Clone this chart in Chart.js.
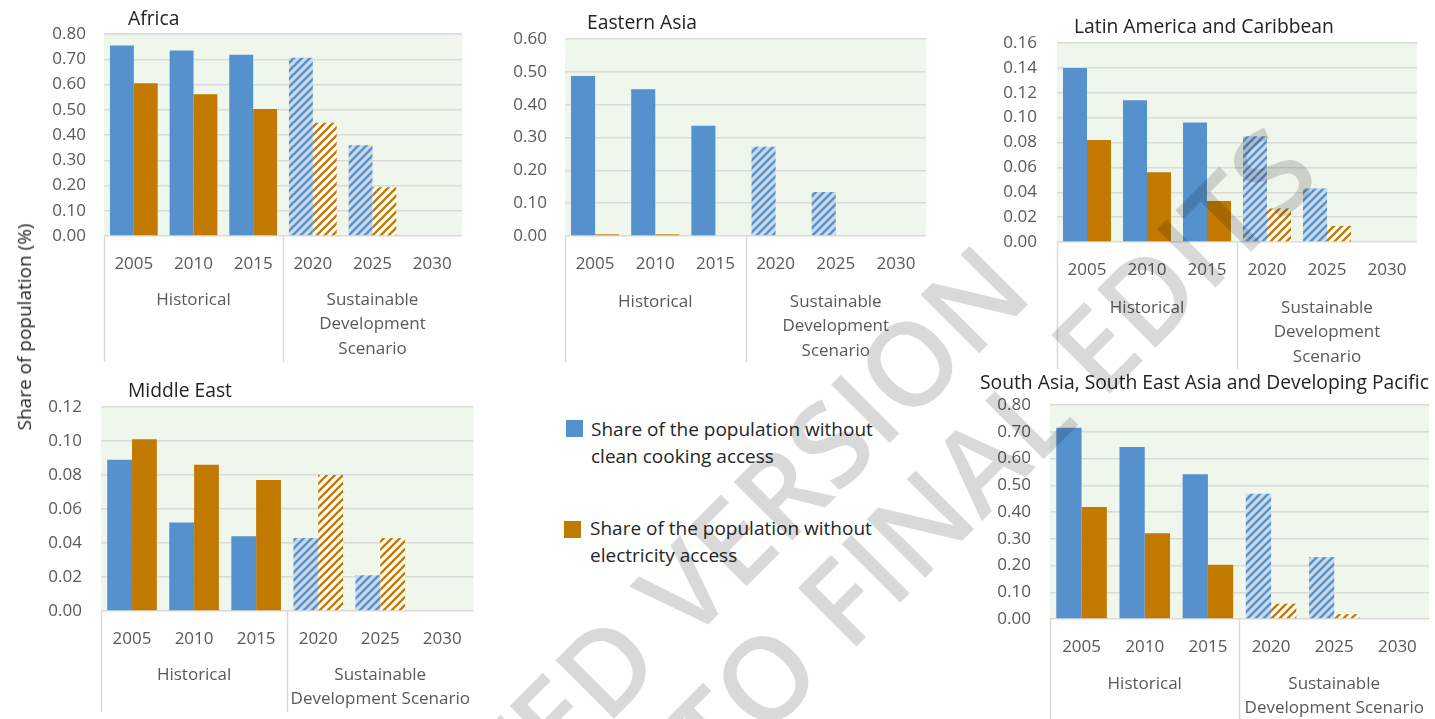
<!DOCTYPE html>
<html>
<head>
<meta charset="utf-8">
<script src="https://cdn.jsdelivr.net/npm/chart.js@4.4.1/dist/chart.umd.min.js"></script>
<style>
  body { margin: 0; background: #fff; width: 1435px; height: 719px; overflow: hidden; position: relative; font-family: "Open Sans", sans-serif; }
  canvas { position: absolute; }
  #ytitle { position: absolute; left: 24px; top: 327px; transform: translate(-50%, -50%) rotate(-90deg); font-size: 19px; color: #262626; white-space: nowrap; }
  .leg { position: absolute; font-size: 19px; color: #262626; line-height: 27px; white-space: nowrap; }
  .sw { position: absolute; width: 17px; height: 17px; }
  .wm { position: absolute; height: 120px; line-height: 120px; font-size: 116px; font-weight: 600; color: rgba(0, 0, 0, 0.15); white-space: nowrap; text-align: right; transform-origin: 100% 50%; transform: rotate(-45deg); pointer-events: none; z-index: 5; }
</style>
</head>
<body>
<canvas id="cAfrica" width="480" height="370" style="left:0;top:0"></canvas>
<canvas id="cEastAsia" width="480" height="370" style="left:480px;top:0"></canvas>
<canvas id="cLatam" width="475" height="375" style="left:960px;top:0"></canvas>
<canvas id="cMidEast" width="480" height="349" style="left:0;top:370px"></canvas>
<canvas id="cSouthAsia" width="475" height="349" style="left:960px;top:370px"></canvas>

<div id="ytitle">Share of population (%)</div>

<div class="sw" id="sw0" style="left:566px;top:420px"></div>
<div class="leg" id="leg0" style="left:591px;top:416px"></div>
<div class="sw" id="sw1" style="left:564px;top:521px"></div>
<div class="leg" id="leg1" style="left:590px;top:515px"></div>

<!-- watermark, each line anchored at its right end -->
<div class="wm" style="right:431px;top:205px">UNEDITED VERSION</div>
<div class="wm" style="right:143px;top:87px">SUBJECT TO FINAL EDITS</div>

<script>
// categories
var years = ["2005", "2010", "2015", "2020", "2025", "2030"];
// 0 = historical, 1 = scenario (hatched)
var yearGroup = [0, 0, 0, 1, 1, 1];
var groupsNarrow = [["Historical"], ["Sustainable", "Development", "Scenario"]];
var groupsWide = [["Historical"], ["Sustainable", "Development Scenario"]];
var legendLines = [
  ["Share of the population without", "clean cooking access"],
  ["Share of the population without", "electricity access"]
];

// values (share, 0-1)
var africaCooking = [0.754, 0.735, 0.718, 0.706, 0.359, null];
var africaElec = [0.605, 0.561, 0.503, 0.449, 0.193, null];
var eastAsiaCooking = [0.487, 0.447, 0.336, 0.272, 0.134, null];
var eastAsiaElec = [0.005, 0.005, 0, 0, 0, null];
var latamCooking = [0.140, 0.114, 0.096, 0.085, 0.043, null];
var latamElec = [0.082, 0.056, 0.033, 0.027, 0.013, null];
var midEastCooking = [0.089, 0.052, 0.044, 0.043, 0.021, null];
var midEastElec = [0.101, 0.086, 0.077, 0.080, 0.043, null];
var southAsiaCooking = [0.715, 0.643, 0.541, 0.468, 0.232, null];
var southAsiaElec = [0.419, 0.321, 0.203, 0.057, 0.018, null];

var blue = "#5591cd";
var orange = "#c27900";
var plotBg = "#eff6eb";
var gridColor = "#dadada";
var tickColor = "#595959";

Chart.defaults.font.family = "'Open Sans', sans-serif";
Chart.defaults.font.size = 17;
Chart.defaults.color = tickColor;

function makeHatch(bg, stripe) {
  var s = 8;
  var c = document.createElement("canvas");
  c.width = s; c.height = s;
  var g = c.getContext("2d");
  g.fillStyle = bg;
  g.fillRect(0, 0, s, s);
  g.strokeStyle = stripe;
  g.lineWidth = 2.3;
  g.beginPath();
  g.moveTo(-2, s + 2); g.lineTo(s + 2, -2);
  g.moveTo(-2, 2); g.lineTo(2, -2);
  g.moveTo(s - 2, s + 2); g.lineTo(s + 2, s - 2);
  g.stroke();
  return g.createPattern(c, "repeat");
}
var blueHatch = makeHatch("#cfd9e6", blue);
var orangeHatch = makeHatch("#ffffff", orange);

// green plot area, panel title, group labels and separators
var panelDecor = {
  id: "panelDecor",
  beforeDraw: function(chart) {
    var a = chart.chartArea;
    var ctx = chart.ctx;
    ctx.save();
    ctx.fillStyle = plotBg;
    ctx.fillRect(a.left, a.top, a.right - a.left, a.bottom - a.top);
    ctx.restore();
  },
  afterDraw: function(chart, args, opts) {
    var ctx = chart.ctx;
    var a = chart.chartArea;
    var x = chart.scales.x;
    ctx.save();
    ctx.fillStyle = "#222";
    ctx.font = "19.3px 'Open Sans'";
    ctx.textAlign = "left";
    ctx.textBaseline = "middle";
    ctx.fillText(opts.title, opts.titleX, opts.titleY);

    var half = (x.getPixelForValue(1) - x.getPixelForValue(0)) / 2;
    ctx.strokeStyle = gridColor;
    ctx.lineWidth = 1.5;
    [0, 3].forEach(function(i) {
      var px = Math.round(x.getPixelForValue(i) - half) + 0.5;
      ctx.beginPath();
      ctx.moveTo(px, a.bottom);
      ctx.lineTo(px, a.bottom + opts.sepLen);
      ctx.stroke();
    });

    ctx.fillStyle = tickColor;
    ctx.font = "17px 'Open Sans'";
    ctx.textAlign = "center";
    opts.groups.forEach(function(lines, gi) {
      var cx = x.getPixelForValue(gi * 3 + 1);
      lines.forEach(function(t, li) {
        ctx.fillText(t, cx, a.bottom + opts.groupY + li * 24.5);
      });
    });
    ctx.restore();
  }
};

function barColor(solid, hatch) {
  return function(c) { return yearGroup[c.dataIndex] ? hatch : solid; };
}

function makePanel(id, cooking, elec, yMax, yStep, d) {
  return new Chart(document.getElementById(id), {
    type: "bar",
    data: {
      labels: years,
      datasets: [
        { label: legendLines[0].join(" "), data: cooking, backgroundColor: barColor(blue, blueHatch) },
        { label: legendLines[1].join(" "), data: elec, backgroundColor: barColor(orange, orangeHatch) }
      ]
    },
    options: {
      responsive: false,
      animation: false,
      devicePixelRatio: 1,
      layout: { padding: { left: 0, top: d.top, right: d.right, bottom: 0 } },
      datasets: { bar: { categoryPercentage: 0.8, barPercentage: 1.0, borderWidth: 0 } },
      plugins: {
        legend: { display: false },
        tooltip: { enabled: false },
        panelDecor: d
      },
      scales: {
        x: {
          grid: { display: false, drawTicks: false },
          border: { display: false },
          ticks: { padding: 18, autoSkip: false, maxRotation: 0, color: tickColor },
          afterFit: function(s) { s.height = d.xHeight; }
        },
        y: {
          min: 0,
          max: yMax,
          grid: { color: gridColor, lineWidth: 1.5, drawTicks: false },
          border: { display: false },
          ticks: {
            stepSize: yStep,
            padding: d.yPad,
            color: tickColor,
            callback: function(v) { return v.toFixed(2); }
          },
          afterFit: function(s) { s.width = d.yWidth; }
        }
      }
    },
    plugins: [panelDecor]
  });
}

makePanel("cAfrica", africaCooking, africaElec, 0.8, 0.1,
  { title: "Africa", titleX: 128, titleY: 20, top: 34, right: 18, yWidth: 104, yPad: 18, xHeight: 134, sepLen: 126, groupY: 64, groups: groupsNarrow });
makePanel("cEastAsia", eastAsiaCooking, eastAsiaElec, 0.6, 0.1,
  { title: "Eastern Asia", titleX: 107, titleY: 24, top: 39, right: 34, yWidth: 85, yPad: 18, xHeight: 134, sepLen: 126, groupY: 66, groups: groupsNarrow });
makePanel("cLatam", latamCooking, latamElec, 0.16, 0.02,
  { title: "Latin America and Caribbean", titleX: 114, titleY: 28, top: 43, right: 18, yWidth: 97, yPad: 20, xHeight: 133, sepLen: 127, groupY: 66, groups: groupsNarrow });
makePanel("cMidEast", midEastCooking, midEastElec, 0.12, 0.02,
  { title: "Middle East", titleX: 128, titleY: 22, top: 37, right: 3, yWidth: 101, yPad: 19, xHeight: 108, sepLen: 101, groupY: 64, groups: groupsWide });
makePanel("cSouthAsia", southAsiaCooking, southAsiaElec, 0.8, 0.1,
  { title: "South Asia, South East Asia and Developing Pacific", titleX: 20, titleY: 14, top: 35, right: 2, yWidth: 90, yPad: 19, xHeight: 100, sepLen: 100, groupY: 65, groups: groupsWide });

// legend
[blue, orange].forEach(function(col, i) {
  document.getElementById("sw" + i).style.background = col;
  document.getElementById("leg" + i).innerHTML = legendLines[i].join("<br>");
});
</script>
</body>
</html>
